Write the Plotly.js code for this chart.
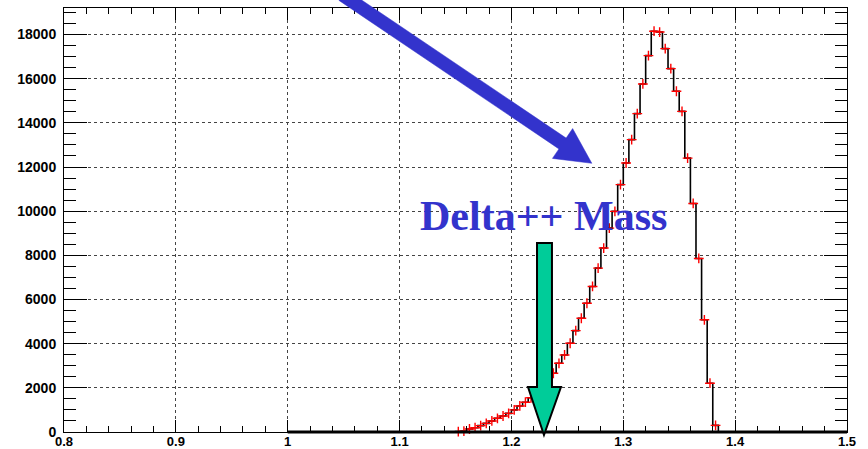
<!DOCTYPE html>
<html>
<head>
<meta charset="utf-8">
<script src="https://cdn.plot.ly/plotly-3.0.1.min.js"></script>
<style>
  html, body { margin: 0; padding: 0; background: #ffffff; }
  #chart { width: 868px; height: 449px; }
</style>
</head>
<body>
<div id="chart"></div>
<script>
// ---- data ----
const histLow = 1.0;
const histHigh = 1.5;
const binWidth = 0.005;
const binLow = [1.150, 1.155, 1.160, 1.165, 1.170, 1.175, 1.180, 1.185, 1.190, 1.195,
                1.200, 1.205, 1.210, 1.215, 1.220, 1.225, 1.230, 1.235, 1.240, 1.245,
                1.250, 1.255, 1.260, 1.265, 1.270, 1.275, 1.280, 1.285, 1.290, 1.295,
                1.300, 1.305, 1.310, 1.315, 1.320, 1.325, 1.330, 1.335, 1.340, 1.345,
                1.350, 1.355, 1.360, 1.365, 1.370, 1.375, 1.380];
const counts = [15, 40, 135, 195, 290, 390, 500, 620, 725, 845,
                1000, 1180, 1350, 1550, 1780, 2050, 2350, 2660, 3110, 3490,
                4020, 4590, 5150, 5830, 6590, 7420, 8330, 9230, 9990, 11200,
                12180, 13240, 14415, 15760, 17045, 18150, 18110, 17360, 16455, 15430,
                14520, 12400, 10350, 7860, 5080, 2210, 300];
const points = counts.slice();
const xTickVals = [0.8, 0.9, 1.0, 1.1, 1.2, 1.3, 1.4, 1.5];
const xTickText = ['0.8', '0.9', '1', '1.1', '1.2', '1.3', '1.4', '1.5'];
const yTickVals = [0, 2000, 4000, 6000, 8000, 10000, 12000, 14000, 16000, 18000];
const yTickText = ['0', '2000', '4000', '6000', '8000', '10000', '12000', '14000', '16000', '18000'];
const labelText = 'Delta++ Mass';

// ---- step line through the library ----
const stepX = [histLow].concat(binLow, [binLow[binLow.length - 1] + binWidth, histHigh]);
const stepY = [0].concat(counts, [0, 0]);
const centers = binLow.map(v => v + binWidth / 2);

// ---- overlay geometry (pixel -> paper helper) ----
const L = 64, T = 8, W = 783, H = 424;
function P(px, py) { return ((px - L) / W).toFixed(4) + ',' + ((T + H - py) / H).toFixed(4); }
function path(pts) { return 'M' + pts.map(p => P(p[0], p[1])).join(' L') + ' Z'; }

const blueArrow = path([[346.2, -10.4], [566.1, 138.1], [572.6, 128.6], [591.8, 163.3],
                        [552.4, 158.4], [558.9, 148.9], [339.0, 0.4]]);
const greenArrow = path([[537, 243], [552, 243], [552, 387], [561, 387], [544, 435],
                         [528, 387], [537, 387]]);

const traces = [
  {
    type: 'scatter', mode: 'lines', x: stepX, y: stepY,
    line: { shape: 'hv', color: '#000000', width: 1.6 },
    hoverinfo: 'skip', showlegend: false
  },
  {
    type: 'scatter', mode: 'markers', x: centers, y: points,
    marker: { symbol: 'cross-thin-open', size: 7, color: '#ff0000', line: { color: '#ff0000', width: 1.4 } },
    cliponaxis: false, hoverinfo: 'skip', showlegend: false
  }
];

const axisFont = { family: 'Liberation Sans, Arial, sans-serif', size: 14, color: '#000000', weight: 'bold' };

const layout = {
  width: 868, height: 449,
  margin: { l: L, r: 868 - L - W, t: T, b: 449 - T - H, pad: 0 },
  paper_bgcolor: '#ffffff', plot_bgcolor: '#ffffff',
  showlegend: false,
  xaxis: {
    range: [0.8, 1.5], tickmode: 'array', tickvals: xTickVals, ticktext: xTickText,
    ticks: 'inside', ticklen: 12, tickwidth: 1, tickcolor: '#000',
    minor: { dtick: 0.02, tick0: 0.8, ticks: 'inside', ticklen: 6, tickcolor: '#000', showgrid: false },
    showline: true, linecolor: '#000', linewidth: 1, mirror: 'ticks',
    showgrid: true, gridcolor: '#444', griddash: 'dot', gridwidth: 1,
    zeroline: false, tickfont: { family: axisFont.family, size: 13, color: '#000', weight: 'bold' },
    ticklabelstandoff: -3
  },
  yaxis: {
    range: [0, 19200], tickmode: 'array', tickvals: yTickVals, ticktext: yTickText,
    ticks: 'inside', ticklen: 23, tickwidth: 1, tickcolor: '#000',
    minor: { dtick: 500, tick0: 0, ticks: 'inside', ticklen: 12, tickcolor: '#000', showgrid: false },
    showline: true, linecolor: '#000', linewidth: 1, mirror: 'ticks',
    showgrid: true, gridcolor: '#444', griddash: 'dot', gridwidth: 1,
    zeroline: false, tickfont: axisFont, ticklabelstandoff: 4
  },
  shapes: [
    { type: 'line', xref: 'x', yref: 'paper', x0: histLow, x1: histHigh, y0: 0, y1: 0,
      line: { color: '#000', width: 3 }, layer: 'above' },
    { type: 'path', xref: 'paper', yref: 'paper', path: blueArrow,
      fillcolor: '#3333cc', line: { color: '#3333cc', width: 0.5 }, layer: 'above' },
    { type: 'path', xref: 'paper', yref: 'paper', path: greenArrow,
      fillcolor: '#00cc99', line: { color: '#000000', width: 2 }, layer: 'above' }
  ],
  annotations: [
    { xref: 'paper', yref: 'paper', x: (543 - L) / W, y: (T + H - 216) / H,
      xanchor: 'center', yanchor: 'middle', showarrow: false, text: labelText,
      font: { family: 'Liberation Serif, Times New Roman, serif', size: 42, color: '#3333cc', weight: 'bold' } }
  ]
};

Plotly.newPlot('chart', traces, layout, { staticPlot: true, displayModeBar: false });
</script>
</body>
</html>
